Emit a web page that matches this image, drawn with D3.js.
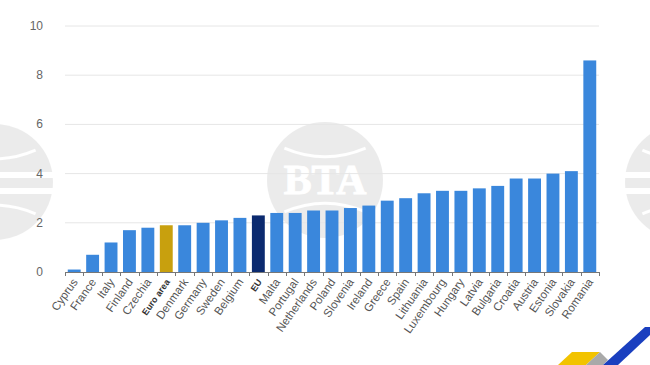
<!DOCTYPE html>
<html><head><meta charset="utf-8">
<script src="https://cdn.jsdelivr.net/npm/d3@7"></script>
<style>body{margin:0;background:#fff;}svg{display:block;}</style>
</head><body>
<script>
const categories = ["Cyprus","France","Italy","Finland","Czechia","Euro area","Denmark","Germany","Sweden","Belgium","EU","Malta","Portugal","Netherlands","Poland","Slovenia","Ireland","Greece","Spain","Lithuania","Luxembourg","Hungary","Latvia","Bulgaria","Croatia","Austria","Estonia","Slovakia","Romania"];
const values = [0.1,0.7,1.2,1.7,1.8,1.9,1.9,2.0,2.1,2.2,2.3,2.4,2.4,2.5,2.5,2.6,2.7,2.9,3.0,3.2,3.3,3.3,3.4,3.5,3.8,3.8,4.0,4.1,8.6];
const yTicks = [0,2,4,6,8,10];

const W=650,H=365;
const svg=d3.select("body").append("svg").attr("width",W).attr("height",H);

// watermarks
function globe(cx,cy,r,withText){
  const g=svg.append("g").attr("opacity",0.16);
  g.append("circle").attr("cx",cx).attr("cy",cy).attr("r",r).attr("fill","#8a8a8a");
  if(withText){
    g.append("text").attr("x",cx).attr("y",cy+14).attr("text-anchor","middle")
     .attr("font-family","Liberation Serif, serif").attr("font-weight","bold").attr("font-size",r*0.72)
     .attr("fill","#fff").attr("stroke","#fff").attr("stroke-width",1).text("BTA");
  } else {
    g.append("rect").attr("x",cx-r).attr("y",cy-10).attr("width",2*r).attr("height",6).attr("fill","#fff");
    g.append("rect").attr("x",cx-r).attr("y",cy+6).attr("width",2*r).attr("height",6).attr("fill","#fff");
  }
  g.append("path").attr("d",`M${cx-r*0.7},${cy-r*0.55} Q${cx},${cy-r*0.25} ${cx+r*0.7},${cy-r*0.55}`).attr("stroke","#fff").attr("stroke-width",3).attr("fill","none");
  g.append("path").attr("d",`M${cx-r*0.7},${cy+r*0.55} Q${cx},${cy+r*0.25} ${cx+r*0.7},${cy+r*0.55}`).attr("stroke","#fff").attr("stroke-width",3).attr("fill","none");
}
globe(325,180,58,true);
globe(-5,182,58,false);
globe(683,182,58,false);

const x=d3.scaleBand().domain(categories).range([65,599]).paddingInner(0.3).paddingOuter(0.15);
const y=d3.scaleLinear().domain([0,10]).range([272,26]);

// grid
svg.append("g").selectAll("line").data(yTicks.filter(d=>d>0)).join("line")
  .attr("x1",65).attr("x2",599).attr("y1",d=>y(d)).attr("y2",d=>y(d))
  .attr("stroke","#e6e6e6").attr("stroke-width",1);

// y labels
svg.append("g").selectAll("text").data(yTicks).join("text")
  .attr("x",43).attr("y",d=>y(d)+4).attr("text-anchor","end")
  .attr("font-family","Liberation Sans, Arial, sans-serif").attr("font-size",12).attr("fill","#666")
  .text(d=>d);

const colorOf=c=>c==="Euro area"?"#c8a00e":(c==="EU"?"#0b2a6f":"#3a87dc");
svg.append("g").selectAll("rect").data(categories).join("rect")
  .attr("x",d=>x(d)).attr("width",x.bandwidth())
  .attr("y",(d,i)=>y(values[i])).attr("height",(d,i)=>y(0)-y(values[i]))
  .attr("fill",colorOf);

// x axis baseline
svg.append("line").attr("x1",65).attr("x2",599).attr("y1",272.5).attr("y2",272.5).attr("stroke","#777");
const bounds=d3.range(categories.length+1).map(i=>65+ (599-65)*i/categories.length);
svg.append("g").selectAll("line").data(bounds).join("line")
  .attr("x1",d=>Math.round(d)+0.5).attr("x2",d=>Math.round(d)+0.5).attr("y1",272).attr("y2",276).attr("stroke","#777");

svg.append("g").selectAll("text").data(categories).join("text")
  .attr("transform",d=>`translate(${x(d)+x.bandwidth()/2+4},${282}) rotate(-55)`)
  .attr("text-anchor","end")
  .attr("font-family","Liberation Sans, Arial, sans-serif")
  .attr("font-size",d=>(d==="EU"||d==="Euro area")?9:11.5)
  .attr("font-weight",d=>(d==="EU"||d==="Euro area")?"bold":"normal")
  .attr("fill",d=>(d==="EU"||d==="Euro area")?"#333":"#555")
  .text(d=>d);

// logo bottom right
const lg=svg.append("g");
lg.append("polygon").attr("points","558,365 572,352 600,352 586,365").attr("fill","#f2c300");
lg.append("polygon").attr("points","586,365 600,352 608,360 603,365").attr("fill","#a9a9a9");
lg.append("polygon").attr("points","603,365 645,327 650,327 650,335 618,365").attr("fill","#1a3fbf");
</script>
</body></html>
